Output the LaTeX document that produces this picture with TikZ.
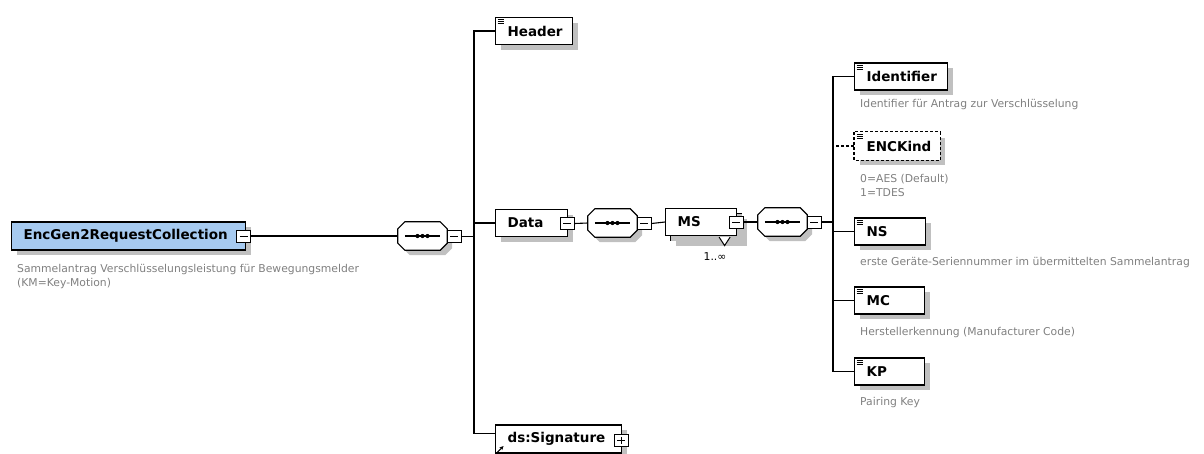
\documentclass[tikz,border=0pt]{standalone}
\usepackage{fontspec}
\setmainfont{DejaVu Sans}
\usetikzlibrary{calc,shadows,arrows.meta}

\definecolor{rootblue}{RGB}{166,202,240}
\definecolor{shadowgray}{RGB}{192,192,192}
\definecolor{notegray}{RGB}{128,128,128}

\newcommand\elemfont{\fontsize{13.5}{15}\selectfont\bfseries}
\newcommand\notefont{\fontsize{10.8}{14}\selectfont}
% three short lines in the top-left corner of an element box
\newcommand\docmark[1]{%
  \draw[line width=0.7pt]
    ($(#1.north west)+(2.5,2.5)$) -- ++(6,0)
    ($(#1.north west)+(2.5,4.5)$) -- ++(6,0)
    ($(#1.north west)+(2.5,6.5)$) -- ++(6,0);}
% octagon outline of a sequence compositor, shifted by #2
\newcommand\octpath[2]{%
  ($(#1.north west)+(#2,#2+7)$) -- ($(#1.north west)+(#2+7,#2)$) --
  ($(#1.north east)+(#2-7,#2)$) -- ($(#1.north east)+(#2,#2+7)$) --
  ($(#1.south east)+(#2,#2-7)$) -- ($(#1.south east)+(#2-7,#2)$) --
  ($(#1.south west)+(#2+7,#2)$) -- ($(#1.south west)+(#2,#2-7)$) -- cycle}
\newcommand\seqdraw[1]{%
  \fill[shadowgray] \octpath{#1}{5};
  \draw[line width=1.2pt, fill=white] \octpath{#1}{0};
  \draw[line width=1.1pt] ($(#1.west)+(7,0)$) -- ($(#1.east)+(-7,0)$);
  \fill[black] ($(#1.center)+(-5,0)$) circle (2.1pt)
               ($(#1.center)+(0,0)$) circle (2.1pt)
               ($(#1.center)+(5,0)$) circle (2.1pt);}

\tikzset{
  drop/.style={general shadow={shadow xshift=5pt, shadow yshift=-5pt, fill=shadowgray}},
  elem/.style={draw, line width=1.2pt, fill=white, drop, anchor=west,
    minimum height=27pt, inner ysep=0pt, inner xsep=12pt, align=left, font=\elemfont},
  tog/.style={draw, line width=1pt, fill=white, minimum width=14pt,
    minimum height=12pt, inner sep=0pt},
  minus/.style={tog, path picture={
    \draw[line width=1pt] ($(path picture bounding box.west)+(3,0)$) --
      ($(path picture bounding box.east)+(-3,0)$);}},
  plus/.style={tog, path picture={
    \draw[line width=1pt] ($(path picture bounding box.west)+(3,0)$) --
      ($(path picture bounding box.east)+(-3,0)$)
      ($(path picture bounding box.north)+(0,2.5)$) --
      ($(path picture bounding box.south)+(0,-2.5)$);}},
  seq/.style={rectangle, minimum width=49pt, minimum height=28pt, inner sep=0pt},
  conn/.style={line width=1.1pt},
  note/.style={font=\notefont, text=notegray, anchor=west, align=left, inner sep=0pt}
}

\begin{document}
\begin{tikzpicture}[x=1pt,y=-1pt]
\useasboundingbox (0,0) rectangle (1204,453);

% root element
\node[elem, fill=rootblue, minimum height=28pt, text width=210pt] (root) at (11,236) {EncGen2RequestCollection};
\node[minus] (rootm) at ($(root.east)+(-2.5,0)$) {};
\node[note] (rootnote) at (17,276.5) {Sammelantrag Verschlüsselungsleistung für Bewegungsmelder\\(KM=Key-Motion)};

% first sequence
\node[seq] (seq1) at (422.5,236) {};
\seqdraw{seq1}
\node[minus] (seq1m) at ($(seq1.east)+(7,0.5)$) {};
\coordinate (v1) at (474,236.5);

% children of the sequence
\node[elem, text width=53pt] (header) at (495,31) {Header};
\docmark{header}
\node[elem, text width=48pt] (data) at (495,223) {Data};
\node[minus] (datam) at ($(data.east)+(-1,0.5)$) {};
\node[elem, minimum height=28pt, text width=102pt] (sig) at (495,439) {ds:Signature};
\node[plus] (sigp) at ($(sig.east)+(-1,1)$) {};
\draw[line width=1pt, -{Stealth[length=4pt,width=4pt]}]
  ($(sig.south west)+(2.5,-1.5)$) -- ++(6,-6);
\coordinate (sigin) at ($(sig.north west)+(0,9)$);

\draw[conn] (rootm.east) -- (seq1.west);
\draw[conn] (seq1m.east) -- (v1);
\draw[conn] (header.west) -| (v1);
\draw[conn] (data.west) -| (v1);
\draw[conn] (sigin) -| (v1);

% Data content
\node[seq] (seq2) at (612.5,223) {};
\seqdraw{seq2}
\node[minus] (seq2m) at ($(seq2.east)+(7,0.5)$) {};

% repeated MS element (stacked boxes)
\node[elem, text width=47pt] (msback) at (670,227) {\phantom{MS}};
\node[elem, text width=47pt, general shadow={}] (ms) at (665,222) {MS};
\draw[line width=1pt, fill=white]
  ($(msback.south)+(13,-4)$) -- ($(msback.south)+(18.5,4.5)$) -- ($(msback.south)+(24,-4)$);
\node[minus] (msm) at ($(ms.east)+(-1,0)$) {};
\node[font=\notefont, inner sep=0pt] (msmult) at (715,257) {1..∞};

\node[seq] (seq3) at (782.5,222) {};
\seqdraw{seq3}
\node[minus] (seq3m) at ($(seq3.east)+(7,0)$) {};
\coordinate (v2) at (833,222);

\draw[conn] (datam.east) -- (seq2.west);
\draw[conn] (seq2m.east) -- (ms.west);
\draw[conn] (msm.east) -- (seq3.west);
\draw[conn] (seq3m.east) -- (v2);

% MS children
\node[elem, text width=69pt] (ident) at (854,76.5) {Identifier};
\docmark{ident}
\node[note] (identnote) at (860,105) {Identifier für Antrag zur Verschlüsselung};

\node[elem, draw=none, text width=61pt] (enc) at (854,146) {ENCKind};
\draw[line width=1.1pt, dash pattern=on 3pt off 2pt] (enc.north west) rectangle (enc.south east);
\docmark{enc}
\node[note] (encnote) at (860,185) {0=AES (Default)\\1=TDES};

\node[elem, text width=47pt] (ns) at (854,231.5) {NS};
\docmark{ns}
\node[note] (nsnote) at (860,263) {erste Geräte-Seriennummer im übermittelten Sammelantrag};

\node[elem, text width=46pt] (mc) at (854,300.5) {MC};
\docmark{mc}
\node[note] (mcnote) at (860,333) {Herstellerkennung (Manufacturer Code)};

\node[elem, text width=46pt] (kp) at (854,371.5) {KP};
\docmark{kp}
\node[note] (kpnote) at (860,403) {Pairing Key};

\draw[conn] (ident.west) -| (v2);
\draw[conn, dash pattern=on 3pt off 2pt] (enc.west) -- (enc.west -| v2);
\draw[conn] (ns.west) -| (v2);
\draw[conn] (mc.west) -| (v2);
\draw[conn] (kp.west) -| (v2);
\end{tikzpicture}
\end{document}
